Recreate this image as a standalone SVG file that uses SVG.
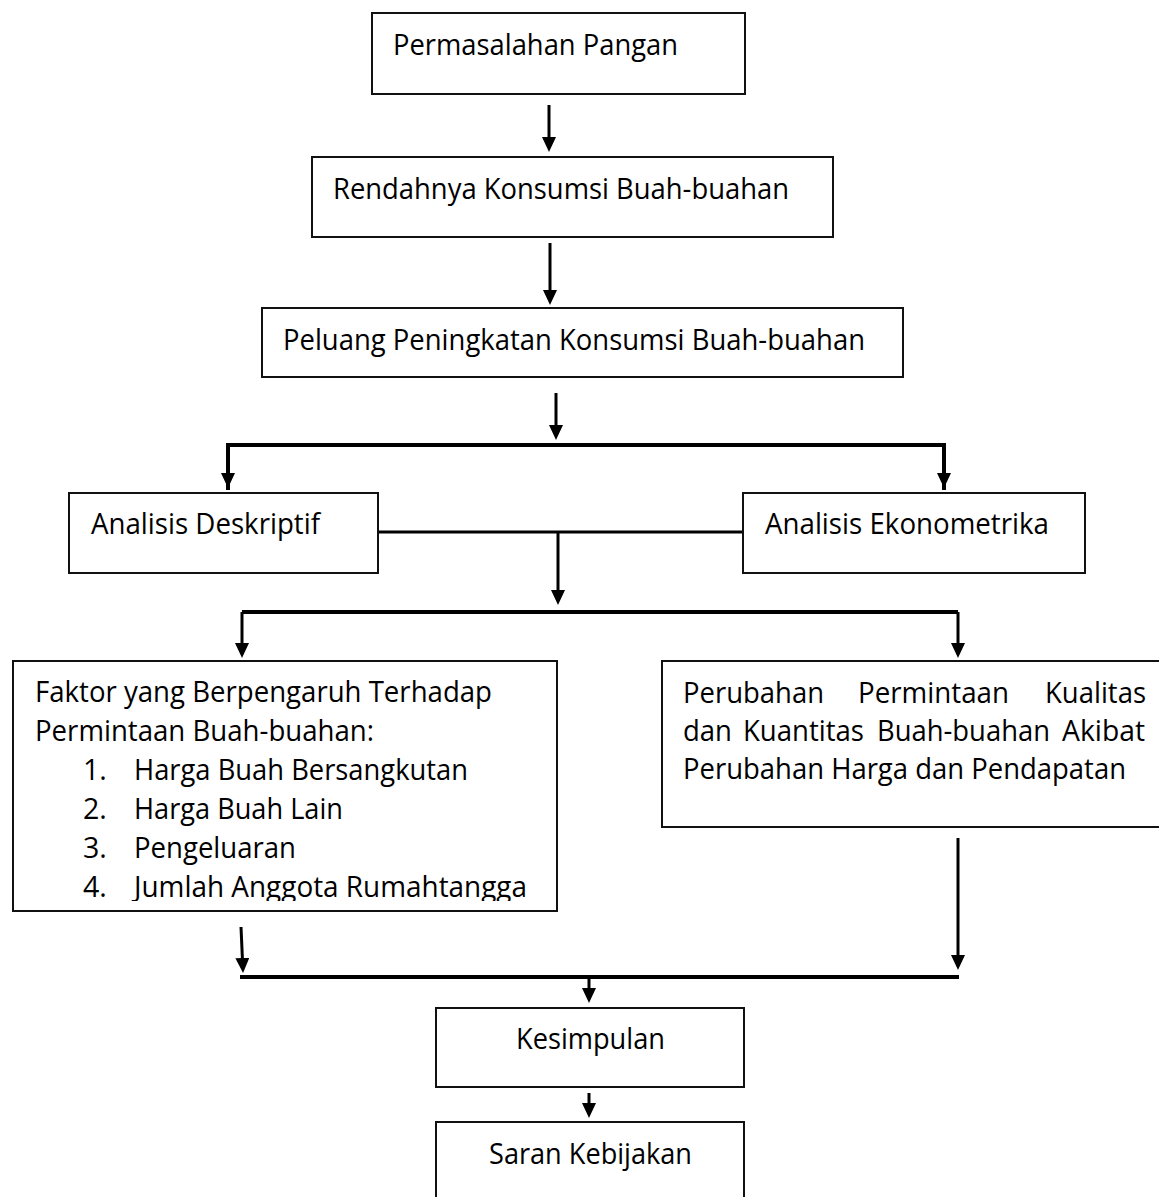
<svg xmlns="http://www.w3.org/2000/svg" width="1159" height="1197" viewBox="0 0 1159 1197">
<style>
  .box { fill: #fff; stroke: #111; stroke-width: 2; }
  .t { font-family: "Open Sans", "Liberation Sans", sans-serif; font-size: 28.6px; fill: #000; }
  .stem { stroke: #000; stroke-width: 3; fill: none; marker-end: url(#ah); }
  .bar { stroke: #000; stroke-width: 4; fill: none; }
  .link { stroke: #000; stroke-width: 3; fill: none; }
</style>
<defs>
  <marker id="ah" markerUnits="userSpaceOnUse" viewBox="0 0 15 14" refX="7" refY="7" markerWidth="15" markerHeight="14" orient="auto">
    <path d="M0,0 L15,7 L0,14 Z" fill="#000"/>
  </marker>
  <clipPath id="clip6"><rect x="13" y="661" width="544" height="240"/></clipPath>
</defs>
<rect width="1159" height="1197" fill="#fff"/>

<g id="connectors">
  <line class="stem" x1="549" y1="105" x2="549" y2="144"/>
  <line class="stem" x1="550" y1="243" x2="550" y2="297"/>
  <line class="stem" x1="556" y1="393" x2="556" y2="432"/>
  <polyline class="bar" points="228,490 228,445 944,445 944,490"/>
  <line class="stem" x1="228" y1="447" x2="228" y2="480"/>
  <line class="stem" x1="944" y1="447" x2="944" y2="480"/>
  <line class="link" x1="378" y1="532" x2="743" y2="532"/>
  <line class="stem" x1="558" y1="532" x2="558" y2="597"/>
  <polyline class="bar" points="242,612 958,612"/>
  <line class="stem" x1="242" y1="612" x2="242" y2="650"/>
  <line class="stem" x1="958" y1="612" x2="958" y2="650"/>
  <line class="stem" x1="241" y1="927" x2="242.7" y2="965"/>
  <line class="stem" x1="958" y1="838" x2="958" y2="962"/>
  <line class="bar" x1="240" y1="977" x2="959" y2="977"/>
  <line class="stem" x1="589" y1="977" x2="589" y2="995"/>
  <line class="stem" x1="589" y1="1093" x2="589" y2="1110"/>
</g>

<g id="n1">
  <rect class="box" x="372" y="13" width="373" height="81"/>
  <text class="t" x="393" y="55" textLength="285" lengthAdjust="spacingAndGlyphs">Permasalahan Pangan</text>
</g>
<g id="n2">
  <rect class="box" x="312" y="157" width="521" height="80"/>
  <text class="t" x="333" y="199" textLength="456" lengthAdjust="spacingAndGlyphs">Rendahnya Konsumsi Buah-buahan</text>
</g>
<g id="n3">
  <rect class="box" x="262" y="308" width="641" height="69"/>
  <text class="t" x="283" y="350" textLength="582" lengthAdjust="spacingAndGlyphs">Peluang Peningkatan Konsumsi Buah-buahan</text>
</g>
<g id="n4">
  <rect class="box" x="69" y="493" width="309" height="80"/>
  <text class="t" x="91" y="534" textLength="229" lengthAdjust="spacingAndGlyphs">Analisis Deskriptif</text>
</g>
<g id="n5">
  <rect class="box" x="743" y="493" width="342" height="80"/>
  <text class="t" x="765" y="534" textLength="284" lengthAdjust="spacingAndGlyphs">Analisis Ekonometrika</text>
</g>
<g id="n6">
  <rect class="box" x="13" y="661" width="544" height="250"/>
  <g clip-path="url(#clip6)">
    <text class="t" x="35" y="702" textLength="457" lengthAdjust="spacingAndGlyphs">Faktor yang Berpengaruh Terhadap</text>
    <text class="t" x="35" y="741" textLength="339" lengthAdjust="spacingAndGlyphs">Permintaan Buah-buahan:</text>
    <text class="t" x="83" y="780">1.</text>
    <text class="t" x="134" y="780" textLength="334" lengthAdjust="spacingAndGlyphs">Harga Buah Bersangkutan</text>
    <text class="t" x="83" y="819">2.</text>
    <text class="t" x="134" y="819" textLength="209" lengthAdjust="spacingAndGlyphs">Harga Buah Lain</text>
    <text class="t" x="83" y="858">3.</text>
    <text class="t" x="134" y="858" textLength="162" lengthAdjust="spacingAndGlyphs">Pengeluaran</text>
    <text class="t" x="83" y="897">4.</text>
    <text class="t" x="134" y="897" textLength="393" lengthAdjust="spacingAndGlyphs">Jumlah Anggota Rumahtangga</text>
  </g>
</g>
<g id="n7">
  <rect class="box" x="662" y="661" width="520" height="166"/>
  <text class="t" y="703">
    <tspan x="683" textLength="141" lengthAdjust="spacingAndGlyphs">Perubahan</tspan>
    <tspan x="858" textLength="151" lengthAdjust="spacingAndGlyphs">Permintaan</tspan>
    <tspan x="1045" textLength="101" lengthAdjust="spacingAndGlyphs">Kualitas</tspan>
  </text>
  <text class="t" y="741">
    <tspan x="683" textLength="49" lengthAdjust="spacingAndGlyphs">dan</tspan>
    <tspan x="743" textLength="121" lengthAdjust="spacingAndGlyphs">Kuantitas</tspan>
    <tspan x="877" textLength="173" lengthAdjust="spacingAndGlyphs">Buah-buahan</tspan>
    <tspan x="1062" textLength="83" lengthAdjust="spacingAndGlyphs">Akibat</tspan>
  </text>
  <text class="t" x="683" y="779" textLength="443" lengthAdjust="spacingAndGlyphs">Perubahan Harga dan Pendapatan</text>
</g>
<g id="n8">
  <rect class="box" x="436" y="1008" width="308" height="79"/>
  <text class="t" x="516" y="1049" textLength="149" lengthAdjust="spacingAndGlyphs">Kesimpulan</text>
</g>
<g id="n9">
  <rect class="box" x="436" y="1122" width="308" height="100"/>
  <text class="t" x="489" y="1164" textLength="203" lengthAdjust="spacingAndGlyphs">Saran Kebijakan</text>
</g>
</svg>
